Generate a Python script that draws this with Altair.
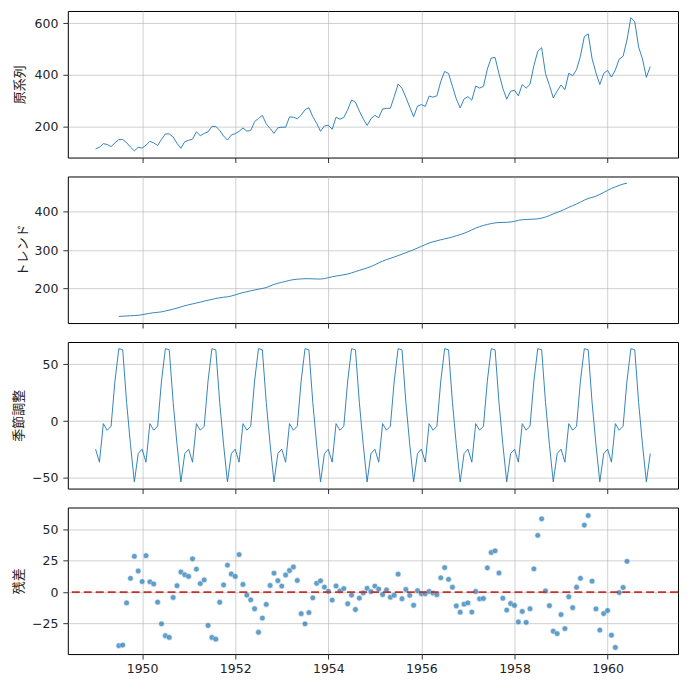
import altair as alt
import pandas as pd

years = list(range(1949, 1961))
passengers = [
    112, 118, 132, 129, 121, 135, 148, 148, 136, 119, 104, 118,
    115, 126, 141, 135, 125, 149, 170, 170, 158, 133, 114, 140,
    145, 150, 178, 163, 172, 178, 199, 199, 184, 162, 146, 166,
    171, 180, 193, 181, 183, 218, 230, 242, 209, 191, 172, 194,
    196, 196, 236, 235, 229, 243, 264, 272, 237, 211, 180, 201,
    204, 188, 235, 227, 234, 264, 302, 293, 259, 229, 203, 229,
    242, 233, 267, 269, 270, 315, 364, 347, 312, 274, 237, 278,
    284, 277, 317, 313, 318, 374, 413, 405, 355, 306, 271, 306,
    315, 301, 356, 348, 355, 422, 465, 467, 404, 347, 305, 336,
    340, 318, 362, 348, 363, 435, 491, 505, 404, 359, 310, 337,
    360, 342, 406, 396, 420, 472, 548, 559, 463, 407, 362, 405,
    417, 391, 419, 461, 472, 535, 622, 606, 508, 461, 390, 432,
]

# trend: Jul 1949 .. Jun 1960
trend = [
    126.79, 127.25, 127.96, 128.58, 129.00, 129.75,
    131.25, 133.08, 134.92, 136.42, 137.42, 138.75, 140.92, 143.17, 145.71, 148.42, 151.54, 154.71,
    157.13, 159.54, 161.83, 164.13, 166.67, 169.08, 171.25, 173.58, 175.46, 176.83, 178.04, 180.17,
    183.13, 186.21, 189.04, 191.29, 193.58, 195.83, 198.04, 199.75, 202.21, 206.25, 210.42, 213.38,
    215.83, 218.50, 220.92, 222.92, 224.08, 224.71, 225.33, 225.33, 224.96, 224.58, 224.46, 225.54,
    228.00, 230.46, 232.25, 233.92, 235.63, 237.75, 240.50, 243.96, 247.17, 250.25, 253.50, 257.13,
    261.83, 266.67, 271.13, 275.21, 278.50, 281.96, 285.75, 289.33, 293.25, 297.17, 301.00, 305.46,
    309.96, 314.42, 318.63, 321.75, 324.50, 327.08, 329.54, 331.83, 334.46, 337.54, 340.54, 344.08,
    348.25, 353.00, 357.63, 361.38, 364.50, 367.17, 369.46, 371.21, 372.17, 372.42, 372.75, 373.63,
    375.25, 377.92, 379.50, 380.00, 380.71, 380.96, 381.83, 383.67, 386.50, 390.33, 394.71, 398.63,
    402.54, 407.17, 411.88, 416.33, 420.50, 425.50, 430.71, 435.13, 437.71, 440.96, 445.83, 450.63,
    456.33, 461.38, 465.21, 469.33, 472.75, 475.04,
]

# seasonal pattern (Jan..Dec), identical every year
seasonal_pattern = [-24.75, -36.19, -2.24, -8.04, -4.51, 35.40,
                    63.83, 62.82, 16.52, -20.64, -53.59, -28.62]

# residual: Jul 1949 .. Jun 1960
resid = [
    -42.6, -42.1, -8.5, 11.1, 28.6, 16.9,
    8.5, 29.1, 8.3, 6.6, -7.9, -25.2, -34.7, -36.0, -4.2, 5.2, 16.1, 13.9,
    12.6, 26.6, 18.4, 6.9, 9.8, -26.5, -36.1, -37.4, -8.0, 5.8, 21.6, 14.5,
    12.6, 30.0, 6.2, -2.3, -6.1, -13.2, -31.9, -20.6, -9.7, 5.4, 15.2, 9.2,
    4.9, 13.7, 17.3, 20.1, 9.4, -17.1, -25.2, -16.2, -4.5, 7.1, 9.1, 4.1,
    0.7, -6.3, 5.0, 1.1, 2.9, -9.2, -2.3, -13.8, -4.7, -0.6, 3.1, 0.5,
    4.9, 2.5, -1.9, 1.8, -4.0, -2.4, 14.4, -5.2, 2.2, -2.5, -10.4, 1.2,
    -1.2, -1.2, 0.6, -0.7, -2.0, 11.5, 19.6, 10.3, 4.0, -10.9, -15.9, -9.5,
    -8.5, -15.8, 0.6, -5.3, -5.0, 19.4, 31.7, 33.0, 15.3, -4.8, -14.2, -9.0,
    -10.5, -23.7, -15.3, -24.0, -13.2, 18.6, 45.3, 58.5, 1.0, -10.7, -31.1, -33.0,
    -17.8, -29.0, -3.6, -12.3, 4.0, 11.1, 53.5, 61.1, 8.8, -13.3, -30.2, -17.0,
    -14.6, -34.2, -44.0, -0.3, 3.8, 24.6,
]

titles = ["原系列", "トレンド", "季節調整", "残差"]
x_ticks = [1950, 1952, 1954, 1956, 1958, 1960]

t_all = [y + m / 12 for y in years for m in range(12)]
df_obs = pd.DataFrame({"t": t_all, "v": passengers})
df_seas = pd.DataFrame({"t": t_all, "v": seasonal_pattern * len(years)})
df_trend = pd.DataFrame({"t": t_all[6:138], "v": trend})
df_resid = pd.DataFrame({"t": t_all[6:138], "v": resid})

BLUE = "#1f77b4"
W, H = 612, 147
xdom = [1948.404, 1961.513]


def xenc(show_labels):
    return alt.X(
        "t:Q",
        scale=alt.Scale(domain=xdom, nice=False, zero=False),
        axis=alt.Axis(values=x_ticks, format="d", labels=show_labels, title=None,
                      grid=True),
    )


def yenc(title, dom, ticks, tx):
    return alt.Y(
        "v:Q",
        scale=alt.Scale(domain=dom, nice=False, zero=False),
        axis=alt.Axis(values=ticks, title=title, grid=True, titleX=tx,
                      titleBaseline="middle", titleAnchor="middle"),
    )


def line_panel(df, title, dom, ticks, tx):
    return alt.Chart(df).mark_line(color=BLUE, strokeWidth=0.9).encode(
        x=xenc(False), y=yenc(title, dom, ticks, tx)
    ).properties(width=W, height=H)


p1 = line_panel(df_obs, titles[0], [78.1, 647.9], [200, 400, 600], -48.5)
p2 = line_panel(df_trend, titles[1], [109.4, 492.5], [200, 300, 400], -45.5)
p3 = line_panel(df_seas, titles[2], [-59.46, 69.70], [-50, 0, 50], -49)

pts = alt.Chart(df_resid).mark_circle(
    color=BLUE, opacity=0.7, size=34, stroke="white", strokeWidth=0.6
).encode(x=xenc(True), y=yenc(titles[3], [-49.3, 67.5], [-25, 0, 25, 50], -49))
zero = alt.Chart(pd.DataFrame({"z": [0]})).mark_rule(
    color="#c8302f", strokeWidth=1.8, strokeDash=[8, 4]
).encode(y=alt.Y("z:Q"))
p4 = alt.layer(pts, zero).properties(width=W, height=H)

chart = alt.vconcat(p1, p2, p3, p4, spacing=12).properties(
    padding={"left": 4, "top": 1, "right": 2, "bottom": 2}
).configure_view(
    stroke="black", strokeWidth=1
).configure_axis(
    domain=False,
    gridColor="#b0b0b0",
    gridOpacity=0.75,
    gridWidth=0.8,
    tickColor="black",
    tickSize=5,
    tickWidth=0.8,
    labelFont="DejaVu Sans",
    labelFontSize=12.5,
    labelColor="#222222",
    labelPadding=5,
    titleFont="Noto Sans CJK JP",
    titleFontSize=13,
    titleFontWeight="normal",
    titleColor="#222222",
).configure_axisX(
    labelPadding=3,
)

chart.save("out.html", embed_options={"renderer": "svg", "actions": False})
